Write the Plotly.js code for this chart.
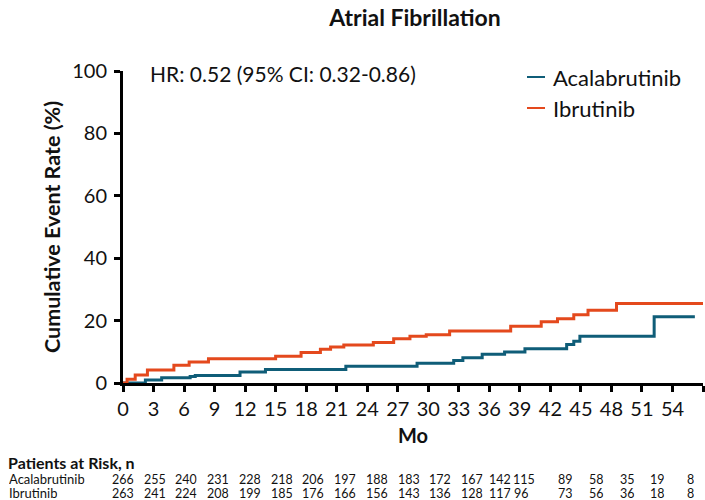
<!DOCTYPE html>
<html>
<head>
<meta charset="utf-8">
<script src="https://cdn.plot.ly/plotly-3.0.1.min.js"></script>
<style>
  html, body { margin: 0; padding: 0; background: #ffffff; }
  #chart { width: 705px; height: 500px; }
</style>
</head>
<body>
<div id="chart"></div>
<script>
// Kaplan-Meier style cumulative incidence of atrial fibrillation (months, %)
const acalaMonths = [0, 2.2, 3.8, 6.6, 7.1, 11.5, 14.0, 21.9, 28.9, 32.5, 33.4, 35.3, 37.5, 39.5, 43.6, 44.3, 44.9, 52.2, 56.2];
const acalaRate   = [0, 1.0, 1.7, 2.1, 2.4, 3.5, 4.3, 5.4, 6.3, 7.2, 8.1, 9.2, 9.9, 11.0, 12.3, 13.4, 15.0, 21.2, 21.2];

const ibruMonths = [0, 0.4, 1.2, 2.4, 5.0, 6.5, 8.4, 15.0, 17.5, 19.4, 20.4, 21.7, 24.6, 26.6, 28.2, 29.8, 32.1, 38.1, 41.1, 42.7, 44.3, 45.7, 48.5, 57];
const ibruRate   = [0, 1.2, 2.6, 4.2, 5.7, 6.7, 7.8, 8.6, 9.8, 10.8, 11.5, 12.2, 13.0, 14.2, 15.0, 15.5, 16.7, 18.2, 19.6, 20.6, 21.9, 23.3, 25.5, 25.5];

const seriesNames = ['Acalabrutinib', 'Ibrutinib'];

const monthTicks      = [0, 3, 6, 9, 12, 15, 18, 21, 24, 27, 30, 33, 36, 39, 42, 45, 48, 51, 54, 57];
const monthTickLabels = ['0', '3', '6', '9', '12', '15', '18', '21', '24', '27', '30', '33', '36', '39', '42', '45', '48', '51', '54', ''];
const rateTicks       = [0, 20, 40, 60, 80, 100];
const rateTickLabels  = ['0', '20', '40', '60', '80', '100'];

const riskAcala = ['266', '255', '240', '231', '228', '218', '206', '197', '188', '183', '172', '167', '142', '115', '89', '58', '35', '19', '8'];
const riskIbru  = ['263', '241', '224', '208', '199', '185', '176', '166', '156', '143', '136', '128', '117', '96', '73', '56', '36', '18', '8'];

const chartTitle = 'Atrial Fibrillation';
const hrText = 'HR: 0.52 (95% CI: 0.32-0.86)';
const xTitle = 'Mo';
const yTitle = 'Cumulative Event Rate (%)';
const riskTitle = 'Patients at Risk, n';

// ---- page geometry (pixels) ----
const W = 705, H = 500;
const M = { l: 123, r: 2, t: 71, b: 117 };
const plotW = W - M.l - M.r;
const plotH = H - M.t - M.b;
const px = x => (x - M.l) / plotW;        // page x -> paper x
const py = y => (H - M.b - y) / plotH;    // page y -> paper y

const FONT = 'Lato, "Open Sans", Arial, sans-serif';
const INK = '#111111';
const TEAL = '#0f5d78';
const ORANGE = '#e4491d';

// column centres of the at-risk table (page pixels) and row centres
const riskColsAcala = [123, 155, 186, 218, 250, 282, 313, 345, 377, 409, 440, 472, 500, 524, 565, 596, 627, 657, 690];
const riskColsIbru  = [123, 155, 186, 218, 250, 282, 313, 345, 377, 409, 440, 472, 500, 521, 565, 596, 627, 657, 690];
const riskRowsY = [479, 493];
const RISK_SIZE = 12.5;
const RISK_LABEL_SIZE = 13;
const RISK_ROW_H = 10;   // compact text boxes so the two tight rows do not collide

const traces = [
  {
    x: acalaMonths, y: acalaRate, name: seriesNames[0],
    type: 'scatter', mode: 'lines',
    line: { shape: 'hv', color: TEAL, width: 3 },
    cliponaxis: false, showlegend: false
  },
  {
    x: ibruMonths, y: ibruRate, name: seriesNames[1],
    type: 'scatter', mode: 'lines',
    line: { shape: 'hv', color: ORANGE, width: 3 },
    cliponaxis: false, showlegend: false
  }
];

const annotations = [];
const shapes = [];

// HR statement
annotations.push({
  xref: 'paper', yref: 'paper', x: px(148), y: py(73),
  xanchor: 'left', yanchor: 'middle', showarrow: false,
  text: hrText, font: { family: FONT, size: 21, color: INK }
});

// legend: short coloured dash + series name
const legendY = [77, 108];
[TEAL, ORANGE].forEach((c, i) => {
  shapes.push({
    type: 'line', xref: 'paper', yref: 'paper',
    x0: px(527), x1: px(545), y0: py(legendY[i]), y1: py(legendY[i]),
    line: { color: c, width: 2 }
  });
  annotations.push({
    xref: 'paper', yref: 'paper', x: px(551), y: py(legendY[i]),
    xanchor: 'left', yanchor: 'middle', showarrow: false,
    text: seriesNames[i], font: { family: FONT, size: 22, color: INK }
  });
});

// at-risk table
annotations.push({
  xref: 'paper', yref: 'paper', x: px(7), y: py(462),
  xanchor: 'left', yanchor: 'middle', showarrow: false, borderpad: 0,
  text: riskTitle, font: { family: FONT, size: 16, color: INK, weight: 'bold' }
});
[[riskAcala, riskColsAcala], [riskIbru, riskColsIbru]].forEach(([row, cols], r) => {
  annotations.push({
    xref: 'paper', yref: 'paper', x: px(8), y: py(riskRowsY[r]),
    xanchor: 'left', yanchor: 'middle', showarrow: false, borderpad: 0,
    height: RISK_ROW_H,
    text: seriesNames[r], font: { family: FONT, size: RISK_LABEL_SIZE, color: INK }
  });
  row.forEach((v, k) => {
    annotations.push({
      xref: 'paper', yref: 'paper', x: px(cols[k]), y: py(riskRowsY[r]),
      xanchor: 'center', yanchor: 'middle', showarrow: false, borderpad: 0,
      height: RISK_ROW_H,
      text: v, font: { family: FONT, size: RISK_SIZE, color: INK }
    });
  });
});

const axisCommon = {
  showgrid: false, zeroline: false,
  showline: true, linecolor: '#000', linewidth: 3,
  ticks: 'outside', ticklen: 6, tickwidth: 3, tickcolor: '#000',
  layer: 'below traces', fixedrange: true,
  tickfont: { family: FONT, size: 20, color: INK }
};

const layout = {
  width: W, height: H,
  margin: M,
  paper_bgcolor: '#fff', plot_bgcolor: '#fff',
  title: {
    text: chartTitle, xref: 'container', yref: 'container',
    x: 415 / W, y: 1 - 18 / H, xanchor: 'center', yanchor: 'middle',
    font: { family: FONT, size: 23, color: INK, weight: 'bold' }
  },
  xaxis: Object.assign({}, axisCommon, {
    range: [0, 57], tickmode: 'array', tickvals: monthTicks, ticktext: monthTickLabels,
    title: { text: xTitle, standoff: 10, font: { family: FONT, size: 20, color: INK, weight: 'bold' } }
  }),
  yaxis: Object.assign({}, axisCommon, {
    range: [0, 100], tickmode: 'array', tickvals: rateTicks, ticktext: rateTickLabels,
    ticklabelstandoff: 3,
    title: { text: yTitle, standoff: 6, font: { family: FONT, size: 21.5, color: INK, weight: 'bold' } }
  }),
  annotations: annotations,
  shapes: shapes,
  showlegend: false
};

Plotly.newPlot('chart', traces, layout, { displayModeBar: false, staticPlot: true });
</script>
</body>
</html>
